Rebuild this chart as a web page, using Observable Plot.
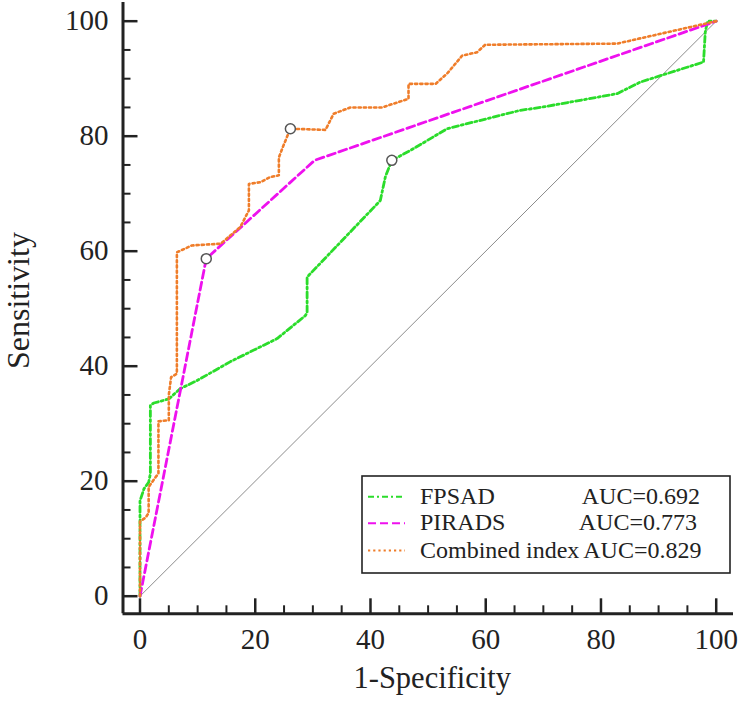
<!DOCTYPE html>
<html>
<head>
<meta charset="utf-8">
<script src="https://cdn.jsdelivr.net/npm/d3@7"></script>
<script src="https://cdn.jsdelivr.net/npm/@observablehq/plot@0.6"></script>
<style>
  html, body { margin: 0; padding: 0; background: #fff; }
  #chart { width: 744px; height: 706px; }
</style>
</head>
<body>
<div id="chart"></div>
<script>
// ---- data ----
const seriesNames = ["FPSAD", "PIRADS", "Combined index"];
const aucLabels = ["AUC=0.692", "AUC=0.773", "AUC=0.829"];

// FPSAD ROC curve (1-Specificity, Sensitivity)
const fpsadX = [0, 0, 0.7, 1.5, 1.8, 1.8, 2.4, 5.0, 7.0, 9.9, 15.7, 23.8, 28.7, 29.0, 29.0, 41.7, 42.6, 43.7, 46.9, 53.3, 66.0, 69.5, 82.8, 86.8, 97.8, 98.1, 98.5, 100];
const fpsadY = [0, 16.6, 18.7, 19.8, 21.3, 33.2, 33.6, 34.3, 36.1, 37.5, 40.8, 44.8, 48.8, 49.3, 55.5, 68.8, 73.0, 75.8, 77.5, 81.3, 84.5, 85.0, 87.4, 89.4, 92.9, 98.1, 100, 100];

// PIRADS ROC curve
const piradsX = [0, 11.5, 30.3, 100];
const piradsY = [0, 58.7, 75.8, 100];

// Combined index ROC curve
const combX = [0, 0, 1.0, 1.5, 1.5, 2.7, 3.2, 3.2, 5.0, 5.0, 5.4, 6.4, 6.4, 9.0, 14.0, 17.4, 18.9, 18.9, 20.9, 22.6, 24.1, 24.1, 24.9, 26.1, 32.2, 33.6, 36.5, 42.0, 46.6, 46.6, 51.3, 53.3, 55.9, 58.5, 59.9, 82.8, 100];
const combY = [0, 13.0, 13.7, 14.5, 19.0, 20.7, 21.3, 30.4, 30.6, 35.0, 38.1, 38.7, 59.8, 61.0, 61.3, 64.2, 67.1, 71.7, 72.0, 72.9, 73.2, 76.3, 78.4, 81.3, 81.1, 83.9, 85.0, 85.0, 86.5, 89.1, 89.1, 90.9, 94.0, 94.6, 95.9, 96.1, 100];

// optimal cut-off points (open circles)
const cutX = [43.7, 11.5, 26.1];
const cutY = [75.8, 58.7, 81.3];

// reference diagonal
const diagX = [0, 100];
const diagY = [0, 100];

const majorTicks = [0, 20, 40, 60, 80, 100];
const minorTicks = [5, 10, 15, 25, 30, 35, 45, 50, 55, 65, 70, 75, 85, 90, 95];

// ---- styles ----
const colors = ["#2bdc2b", "#ee11ee", "#ef7d2a"];
const dashes = ["6,3,2,3", "8,4", "2.2,3"];
const widths = [2.8, 2.8, 2.6];
const FONT = "'Liberation Serif', 'Times New Roman', serif";

const toRows = (xs, ys) => xs.map((x, i) => ({x, y: ys[i]}));
const curves = [toRows(fpsadX, fpsadY), toRows(piradsX, piradsY), toRows(combX, combY)];
const cuts = toRows(cutX, cutY);
const diag = toRows(diagX, diagY);

const xDomain = [-2.95, 103.0];
const yDomain = [-3.06, 103.25];

const plot = Plot.plot({
  width: 744,
  height: 706,
  marginLeft: 122.5,
  marginRight: 11,
  marginTop: 2,
  marginBottom: 92.7,
  style: {fontFamily: FONT, background: "#fff", color: "#222"},
  x: {domain: xDomain},
  y: {domain: yDomain},
  marks: [
    Plot.line(diag, {x: "x", y: "y", stroke: "#8c8c8c", strokeWidth: 1}),
    ...curves.map((c, i) => Plot.line(c, {
      x: "x", y: "y", stroke: colors[i], strokeWidth: widths[i],
      strokeDasharray: dashes[i], strokeLinejoin: "round"
    })),
    Plot.dot(cuts, {x: "x", y: "y", r: 5, fill: "#fff", stroke: "#555", strokeWidth: 1.5}),
    Plot.axisX({ticks: majorTicks, tickSize: -15, tickPadding: 30, strokeWidth: 2.5, fontSize: 29, label: null}),
    Plot.axisX({ticks: minorTicks, tickSize: -8, strokeWidth: 2, tickFormat: () => "", label: null}),
    Plot.axisY({ticks: majorTicks, tickSize: -15, tickPadding: 29.5, strokeWidth: 2.5, fontSize: 29, label: null}),
    Plot.axisY({ticks: minorTicks, tickSize: -8, strokeWidth: 2, tickFormat: () => "", label: null}),
    Plot.ruleX([xDomain[0]], {stroke: "#222", strokeWidth: 3}),
    Plot.ruleY([yDomain[0]], {stroke: "#222", strokeWidth: 3}),
    Plot.text(["1-Specificity"], {frameAnchor: "bottom", textAnchor: "middle", dx: 4, dy: 74, fontSize: 30.5, fill: "#222"}),
    Plot.text(["Sensitivity"], {frameAnchor: "left", textAnchor: "middle", rotate: -90, dx: -104, dy: -7.6, fontSize: 32, fill: "#222"})
  ]
});

document.getElementById("chart").appendChild(plot);

// ---- legend inside the plot area ----
const svg = d3.select(plot);
const lg = svg.append("g").attr("font-family", FONT).attr("font-size", 24).attr("fill", "#222");
lg.append("rect").attr("x", 362).attr("y", 476).attr("width", 368).attr("height", 97)
  .attr("fill", "#fff").attr("stroke", "#222").attr("stroke-width", 1.6);
const rowY = [496.7, 523.2, 550.5];
seriesNames.forEach((name, i) => {
  lg.append("line").attr("x1", 368).attr("x2", 405).attr("y1", rowY[i]).attr("y2", rowY[i])
    .attr("stroke", colors[i]).attr("stroke-width", 2).attr("stroke-dasharray", dashes[i]);
  lg.append("text").attr("x", 420).attr("y", rowY[i] + 7).attr("text-anchor", "start").text(name);
});
const aucEnd = [700, 697, 701.5];
aucLabels.forEach((t, i) => {
  lg.append("text").attr("x", aucEnd[i]).attr("y", rowY[i] + 7).attr("text-anchor", "end").text(t);
});
</script>
</body>
</html>
